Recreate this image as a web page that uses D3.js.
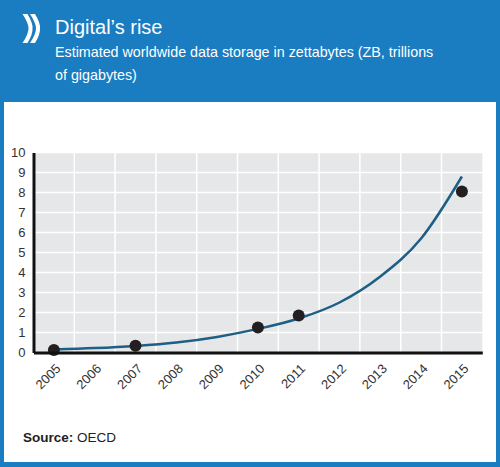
<!DOCTYPE html>
<html>
<head>
<meta charset="utf-8">
<script src="https://cdn.jsdelivr.net/npm/d3@7"></script>
<style>
  body { margin: 0; background: #fff; }
  svg { display: block; font-family: "Liberation Sans", Arial, sans-serif; }
</style>
</head>
<body>
<script>
// data
const years = [2005, 2006, 2007, 2008, 2009, 2010, 2011, 2012, 2013, 2014, 2015];
const yTicks = [0, 1, 2, 3, 4, 5, 6, 7, 8, 9, 10];
const pointYears = [2005, 2007, 2010, 2011, 2015];
const pointValues = [0.13, 0.34, 1.25, 1.85, 8.05];
// exponential trend line, estimated at each year
const trendValues = [0.15, 0.22, 0.33, 0.5, 0.78, 1.18, 1.7, 2.5, 3.8, 5.7, 8.8];

const width = 500,
    height = 467;

const svg = d3.select("body").append("svg")
    .attr("width", width)
    .attr("height", height);

// blue frame + white panel
svg.append("rect").attr("width", width).attr("height", height).attr("fill", "#1a7cc1");
svg.append("rect")
    .attr("x", 4).attr("y", 102)
    .attr("width", 492).attr("height", 360)
    .attr("fill", "#fff");

// oecd chevrons
const chevron = "M0,0 L5,0 Q10.5,9 10,14.5 Q10.5,20 5,29 L0,29 Q6,20 6,14.5 Q6,9 0,0 Z";
[22.5, 30].forEach(function (dx) {
    svg.append("path")
        .attr("d", chevron)
        .attr("transform", `translate(${dx},14)`)
        .attr("fill", "#fff");
});

svg.append("text")
    .attr("x", 55).attr("y", 34)
    .attr("fill", "#fff")
    .attr("font-size", 20)
    .text("Digital’s rise");

const sub = svg.append("text")
    .attr("fill", "#fff")
    .attr("font-size", 14.3);
sub.append("tspan").attr("x", 55).attr("y", 57)
    .text("Estimated worldwide data storage in zettabytes (ZB, trillions");
sub.append("tspan").attr("x", 55).attr("y", 80)
    .text("of gigabytes)");

// scales
const x = d3.scaleLinear().domain([2004.5, 2015.5]).range([33.5, 482.3]);
const y = d3.scaleLinear().domain([0, 10]).range([352.5, 152.5]);

svg.append("rect")
    .attr("x", x(2004.5)).attr("y", y(10))
    .attr("width", x(2015.5) - x(2004.5))
    .attr("height", y(0) - y(10))
    .attr("fill", "#e6e7e8");

// grid
svg.append("g").selectAll("line")
    .data(yTicks.slice(1))
    .enter().append("line")
    .attr("x1", x(2004.5)).attr("x2", x(2015.5))
    .attr("y1", d => y(d)).attr("y2", d => y(d))
    .attr("stroke", "#fff").attr("stroke-width", 1.5);

svg.append("g").selectAll("line")
    .data(years.slice(0, -1))
    .enter().append("line")
    .attr("x1", d => x(d + 0.5)).attr("x2", d => x(d + 0.5))
    .attr("y1", y(10)).attr("y2", y(0))
    .attr("stroke", "#fff").attr("stroke-width", 1.5);

// trend curve
const line = d3.line()
    .x((d, i) => x(years[i]))
    .y(d => y(d))
    .curve(d3.curveMonotoneX);

svg.append("path")
    .datum(trendValues)
    .attr("d", line)
    .attr("fill", "none")
    .attr("stroke", "#1d5f85")
    .attr("stroke-width", 2.5);

// points
svg.append("g").selectAll("circle")
    .data(pointValues)
    .enter().append("circle")
    .attr("cx", (d, i) => x(pointYears[i]))
    .attr("cy", d => y(d))
    .attr("r", 6)
    .attr("fill", "#231f20");

// axes
const yAxis = svg.append("g")
    .attr("transform", `translate(${x(2004.5)},0)`)
    .call(d3.axisLeft(y).tickValues(yTicks).tickSize(0).tickSizeOuter(0).tickPadding(8));
yAxis.select(".domain").attr("stroke", "#111").attr("stroke-width", 3);
yAxis.selectAll("text")
    .attr("font-size", 13)
    .attr("fill", "#333")
    .attr("font-family", "Liberation Sans, Arial, sans-serif");

const xAxis = svg.append("g")
    .attr("transform", `translate(0,${y(0)})`)
    .call(d3.axisBottom(x).tickValues(years).tickFormat(d3.format("d"))
        .tickSize(0).tickSizeOuter(0));
xAxis.select(".domain").attr("stroke", "#111").attr("stroke-width", 3);
xAxis.selectAll("text")
    .attr("font-size", 13)
    .attr("fill", "#333")
    .attr("font-family", "Liberation Sans, Arial, sans-serif")
    .attr("text-anchor", "end")
    .attr("dy", null)
    .attr("y", 0)
    .attr("transform", "translate(7,17) rotate(-45)");

// source
const src = svg.append("text")
    .attr("x", 23).attr("y", 442)
    .attr("font-size", 13.5)
    .attr("fill", "#222");
src.append("tspan").attr("font-weight", "bold").text("Source:");
src.append("tspan").text(" OECD");
</script>
</body>
</html>
